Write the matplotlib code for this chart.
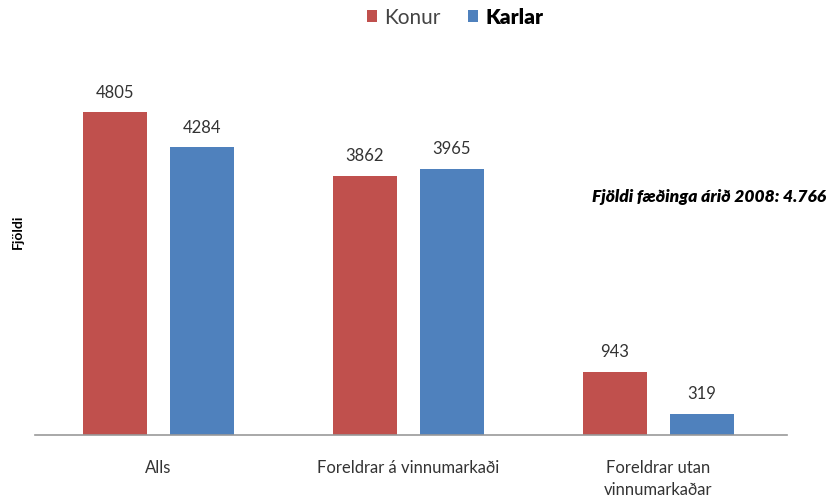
import matplotlib.pyplot as plt
import numpy as np

plt.rcParams['font.family'] = ['Lato', 'DejaVu Sans']

categories = ['Alls', 'Foreldrar á vinnumarkaði', 'Foreldrar utan\nvinnumarkaðar']
konur = [4805, 3862, 943]
karlar = [4284, 3965, 319]
series_names = ['Konur', 'Karlar']

RED = '#C0504D'
BLUE = '#4F81BD'

fig = plt.figure(figsize=(8.31, 5.02), dpi=100)
ax = fig.add_axes([35 / 831, 1 - 436 / 502, 752 / 831, 403 / 502])

x = np.arange(len(categories))
w = 0.256
off = 0.174
b1 = ax.bar(x - off, konur, w, color=RED, label=series_names[0])
b2 = ax.bar(x + off, karlar, w, color=BLUE, label=series_names[1])
ax.bar_label(b1, padding=9, fontsize=12, color='#333333')
ax.bar_label(b2, padding=9, fontsize=12, color='#333333')

ax.set_xlim(-0.494, 2.514)
ax.set_ylim(0, 6000)
ax.set_xticks(x)
ax.set_xticklabels(categories, fontsize=12, color='#333333', linespacing=1.5)
ax.tick_params(axis='x', length=0, pad=17)
ax.set_yticks([])
for s in ['top', 'right', 'left']:
    ax.spines[s].set_visible(False)
ax.spines['bottom'].set_color('#999999')
ax.spines['bottom'].set_linewidth(1.2)

fig.text(18 / 831, 1 - 232 / 502, 'Fjöldi', rotation=90, ha='center', va='center',
         fontsize=10, fontweight='bold')

fig.text(826 / 831, 1 - 197 / 502, 'Fjöldi fæðinga árið 2008: 4.766', ha='right', va='center',
         fontsize=12.5, fontweight='heavy', style='italic')

leg = fig.legend(handles=[b1, b2], loc='center', bbox_to_anchor=(455 / 831, 1 - 18 / 502),
                 ncol=2, frameon=False, fontsize=15, handlelength=0.5, handleheight=0.5,
                 handletextpad=0.35, columnspacing=1.3)
leg.get_texts()[0].set_color('#444444')
leg.get_texts()[1].set_fontweight('heavy')

fig.savefig('out.png', dpi=100)
